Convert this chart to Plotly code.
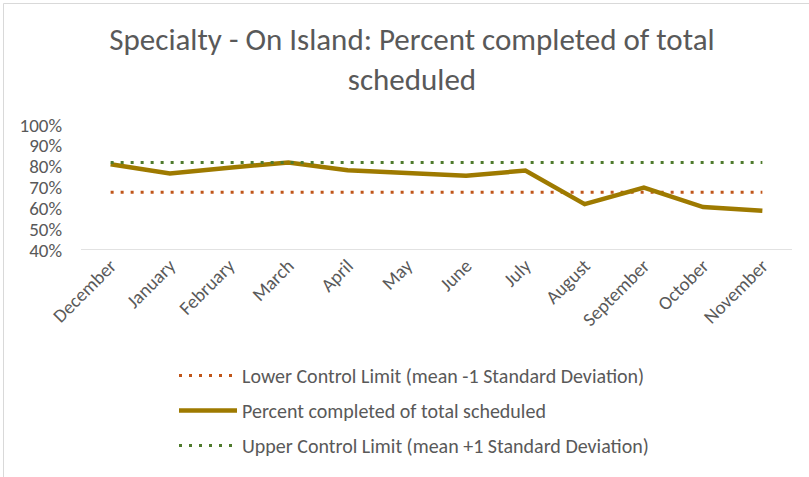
import plotly.graph_objects as go

months = ["December", "January", "February", "March", "April", "May", "June",
          "July", "August", "September", "October", "November"]
percent_completed = [0.812, 0.767, 0.795, 0.820, 0.783, 0.772, 0.757, 0.781,
                     0.620, 0.700, 0.606, 0.588]
lower_limit = [0.677] * 12
upper_limit = [0.820] * 12

FONT = "Carlito, Calibri, Lato, sans-serif"
GRAY = "#595959"

fig = go.Figure()
fig.add_trace(go.Scatter(
    x=months, y=lower_limit, mode="lines", name="Lower Control Limit (mean -1 Standard Deviation)",
    line=dict(color="#C0561A", width=3, dash="3px,7px"), legendgroup="a"))
fig.add_trace(go.Scatter(
    x=months, y=percent_completed, mode="lines", name="Percent completed of total scheduled",
    line=dict(color="#9E7A00", width=4.5), legendgroup="b"))
fig.add_trace(go.Scatter(
    x=months, y=upper_limit, mode="lines", name="Upper Control Limit (mean +1 Standard Deviation)",
    line=dict(color="#4F7B2E", width=3, dash="3px,7px"), legendgroup="c"))

fig.update_layout(
    width=809, height=477,
    paper_bgcolor="white", plot_bgcolor="white",
    margin=dict(l=81, r=17, t=125, b=227, autoexpand=False),
    font=dict(family=FONT, color=GRAY, size=19),
    title=dict(text="Specialty - On Island: Percent completed of total<br>scheduled",
               x=412 / 809, xanchor="center", xref="container", y=0.896, yanchor="top",
               yref="container",
               font=dict(family=FONT, size=31, color=GRAY)),
    xaxis=dict(type="category", range=[-0.5, 11.5], showgrid=False, zeroline=False,
               showline=False, tickangle=-45, tickfont=dict(size=19, color=GRAY),
               ticks="", automargin=False),
    yaxis=dict(range=[0.4, 1.0], tickvals=[0.4, 0.5, 0.6, 0.7, 0.8, 0.9, 1.0],
               tickformat=".0%", showgrid=False, zeroline=False, showline=False,
               tickfont=dict(size=19, color=GRAY), ticklabelstandoff=18,
               automargin=False),
    legend=dict(orientation="v", x=174 / 809, xanchor="left", xref="container",
                y=1 - 356 / 477, yanchor="top", yref="container",
                traceorder="grouped", tracegroupgap=6, itemwidth=58,
                font=dict(size=20, color=GRAY), bgcolor="rgba(0,0,0,0)"),
    showlegend=True,
)

# baseline of plot area
fig.add_shape(type="line", xref="paper", yref="y", x0=0, x1=1, y0=0.4, y1=0.4,
              line=dict(color="#D9D9D9", width=1.5))
# chart border
fig.add_shape(type="rect", xref="paper", yref="paper",
              x0=(3.5 - 81) / 711, x1=(830 - 81) / 711,
              y0=-(477 - 250 + 20) / 125, y1=(250 - 3.5) / 125,
              line=dict(color="#D9D9D9", width=1), fillcolor="rgba(0,0,0,0)", layer="below")

fig.write_html("out.html", config={"displayModeBar": False},
               post_script="document.body.style.margin='0';")
